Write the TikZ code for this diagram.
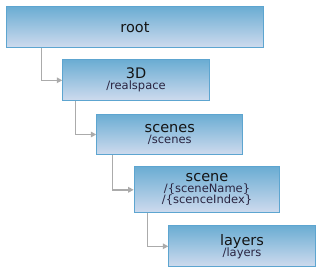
\documentclass[tikz,border=0pt]{standalone}
\usepackage{fontspec}
\setmainfont{DejaVu Sans}
\usetikzlibrary{arrows.meta}
\definecolor{boxtop}{HTML}{6BADD3}
\definecolor{boxbot}{HTML}{CFDBEE}
\definecolor{boxline}{HTML}{5DA5D0}
\definecolor{conn}{HTML}{ABABAB}
\definecolor{subc}{HTML}{2A2440}
\newcommand{\ttl}[1]{{\fontsize{14.5pt}{15pt}\selectfont\color{black!92}#1}}
\newcommand{\sbt}[1]{{\fontsize{11.5pt}{13pt}\selectfont\color{subc}#1}}
\begin{document}
\begin{tikzpicture}[x=1pt,y=1pt,
  box/.style={draw=boxline, line width=1pt, top color=boxtop, bottom color=boxbot,
    inner sep=0pt, align=center, anchor=north west},
  link/.style={draw=conn, line width=1.5pt, -{Triangle[length=5.5pt,width=5.5pt]}}]
\useasboundingbox (0,0) rectangle (336,-272);
\node[box, minimum width=256.4, minimum height=41] (root) at (6.3,-6.3) {\ttl{root}};
\node[box, minimum width=146.4, minimum height=41] (d3) at (62.3,-59.3) {\ttl{3D}\\[-1pt]\sbt{/realspace}};
\node[box, minimum width=146, minimum height=40.6] (scenes) at (96.3,-113.7) {\ttl{scenes}\\[-1pt]\sbt{/scenes}};
\node[box, minimum width=145.6, minimum height=46] (scene) at (133.7,-166.3) {\ttl{scene}\\[-1pt]\sbt{/\{sceneName\}}\\[-1pt]\sbt{/\{scenceIndex\}}};
\node[box, minimum width=146.4, minimum height=41] (layers) at (168.3,-225.3) {\ttl{layers}\\[-1pt]\sbt{/layers}};
\coordinate (c1) at (41.7,0);
\coordinate (c2) at (75.7,0);
\coordinate (c3) at (112.6,0);
\coordinate (c4) at (147.7,0);
\draw[link] (root.south -| c1) |- (d3.west);
\draw[link] (d3.south -| c2) |- (scenes.west);
\draw[link] (scenes.south -| c3) |- (scene.west);
\draw[link] (scene.south -| c4) |- (layers.west);
\end{tikzpicture}
\end{document}
